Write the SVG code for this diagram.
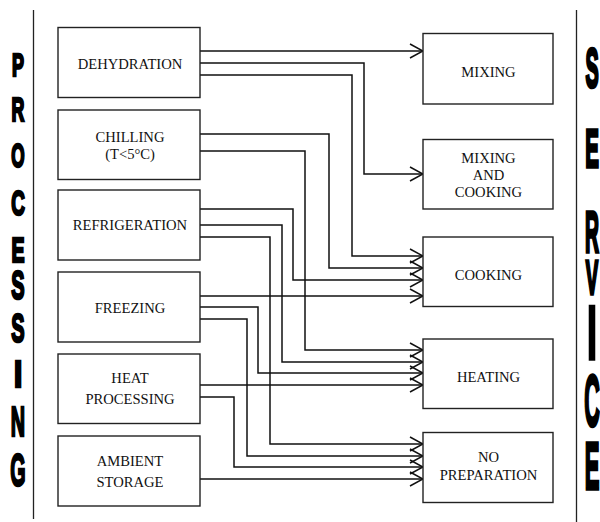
<svg xmlns="http://www.w3.org/2000/svg" width="600" height="522" viewBox="0 0 600 522">
<style>
.box{fill:#fff;stroke:#222;stroke-width:1.4}
.lbl{font-family:"Liberation Serif","Times New Roman",serif;font-size:14.6px;fill:#111;text-anchor:middle}
.big{font-family:"Liberation Sans",Arial,sans-serif;font-weight:bold;fill:#000;stroke:#000;stroke-linejoin:miter;text-anchor:middle}
.bl{stroke-width:2.6}
.br{stroke-width:3.6}
.con{fill:none;stroke:#111;stroke-width:1.5;marker-end:url(#arr)}
.rule{stroke:#222;stroke-width:1.3}
</style>
<defs>
<marker id="arr" markerUnits="userSpaceOnUse" markerWidth="16" markerHeight="18" viewBox="-15 -9 16 18" refX="0" refY="0" orient="auto">
<path d="M-13,-7 L0,0 L-13,7" fill="none" stroke="#111" stroke-width="1.5"/>
</marker>
</defs>
<rect width="600" height="522" fill="#fff"/>
<line class="rule" x1="33.5" y1="10" x2="33.5" y2="519"/>
<line class="rule" x1="576.5" y1="10" x2="576.5" y2="522"/>
<g id="processing-title" class="big bl">
<text transform="translate(18,75.5) scale(0.56,1)" font-size="32">P</text>
<text transform="translate(18,120.5) scale(0.54,1)" font-size="33">R</text>
<text transform="translate(18,166.5) scale(0.52,1)" font-size="33">O</text>
<text transform="translate(18,215) scale(0.54,1)" font-size="35">C</text>
<text transform="translate(18,262) scale(0.56,1)" font-size="35">E</text>
<text transform="translate(18,299) scale(0.5,1)" font-size="40">S</text>
<text transform="translate(18,342) scale(0.5,1)" font-size="40">S</text>
<text transform="translate(18,387) scale(0.8,1)" font-size="37">I</text>
<text transform="translate(18,436) scale(0.46,1)" font-size="43">N</text>
<text transform="translate(18,486) scale(0.42,1)" font-size="47">G</text>
</g>
<g id="service-title" class="big br">
<text transform="translate(592,87) scale(0.36,1)" font-size="55">S</text>
<text transform="translate(592,167) scale(0.38,1)" font-size="54">E</text>
<text transform="translate(592,252) scale(0.34,1)" font-size="57">R</text>
<text transform="translate(592,294) scale(0.38,1)" font-size="49">V</text>
<text transform="translate(592,359) scale(0.45,1)" font-size="76">I</text>
<text transform="translate(592,426) scale(0.3,1)" font-size="72">C</text>
<text transform="translate(592,489) scale(0.33,1)" font-size="67">E</text>
</g>
<g id="connectors">
<polyline class="con" points="200,51 423,51"/>
<polyline class="con" points="200,63 364,63 364,174 423,174"/>
<polyline class="con" points="200,75 352,75 352,256 423,256"/>
<polyline class="con" points="200,134 329,134 329,268 423,268"/>
<polyline class="con" points="200,151 305,151 305,350 423,350"/>
<polyline class="con" points="200,209 293,209 293,280 423,280"/>
<polyline class="con" points="200,225 282,225 282,362 423,362"/>
<polyline class="con" points="200,237 270,237 270,444 423,444"/>
<polyline class="con" points="200,296 423,296"/>
<polyline class="con" points="200,307 258,307 258,373 423,373"/>
<polyline class="con" points="200,319 247,319 247,456 423,456"/>
<polyline class="con" points="200,385 423,385"/>
<polyline class="con" points="200,397 234,397 234,467 423,467"/>
<polyline class="con" points="200,479 423,479"/>
</g>
<g id="dehydration"><rect class="box" x="58" y="27.5" width="142" height="70"/><text class="lbl" x="130" y="69">DEHYDRATION</text></g>
<g id="chilling"><rect class="box" x="58" y="110" width="142" height="69.5"/><text class="lbl" x="130" y="141.5">CHILLING</text><text class="lbl" x="130" y="159">(T&lt;5°C)</text></g>
<g id="refrigeration"><rect class="box" x="58" y="190" width="142" height="70"/><text class="lbl" x="130" y="230">REFRIGERATION</text></g>
<g id="freezing"><rect class="box" x="58" y="272" width="142" height="70"/><text class="lbl" x="130" y="313">FREEZING</text></g>
<g id="heat-processing"><rect class="box" x="58" y="354" width="142" height="69.5"/><text class="lbl" x="130" y="383">HEAT</text><text class="lbl" x="130" y="404">PROCESSING</text></g>
<g id="ambient-storage"><rect class="box" x="58" y="436" width="142" height="70"/><text class="lbl" x="130" y="466">AMBIENT</text><text class="lbl" x="130" y="487">STORAGE</text></g>
<g id="mixing"><rect class="box" x="423" y="33.5" width="130" height="70.5"/><text class="lbl" x="488.5" y="76.5">MIXING</text></g>
<g id="mixing-and-cooking"><rect class="box" x="423" y="139.5" width="130" height="69.5"/><text class="lbl" x="488.5" y="163">MIXING</text><text class="lbl" x="488.5" y="180">AND</text><text class="lbl" x="488.5" y="196.5">COOKING</text></g>
<g id="cooking"><rect class="box" x="423" y="237" width="130" height="69.5"/><text class="lbl" x="488.5" y="280">COOKING</text></g>
<g id="heating"><rect class="box" x="423" y="339" width="130" height="69.5"/><text class="lbl" x="488.5" y="381.5">HEATING</text></g>
<g id="no-preparation"><rect class="box" x="423" y="432.5" width="130" height="70"/><text class="lbl" x="488.5" y="462">NO</text><text class="lbl" x="488.5" y="480">PREPARATION</text></g>
</svg>
